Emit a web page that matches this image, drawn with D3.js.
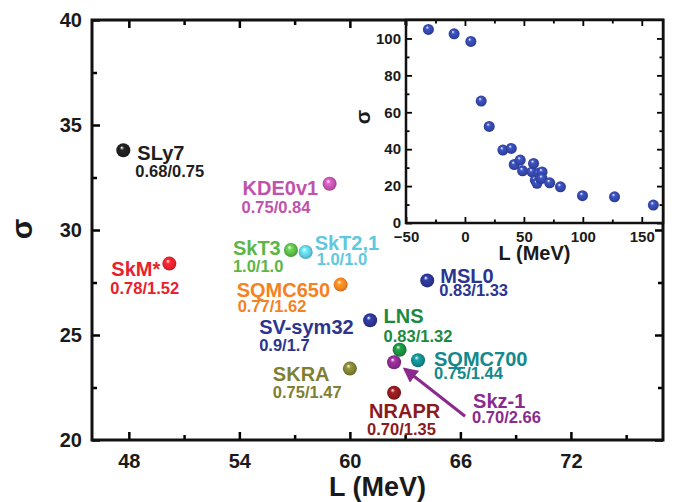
<!DOCTYPE html>
<html>
<head>
<meta charset="utf-8">
<script src="https://cdn.jsdelivr.net/npm/d3@7"></script>
<style>
  body { margin: 0; background: #fff; }
  text { font-family: "Liberation Sans", Arial, sans-serif; font-weight: bold; }
</style>
</head>
<body>
<script>
// main panel data: L (MeV) vs sigma, one point per Skyrme force
var models = ["SLy7", "KDE0v1", "SkT3", "SkT2,1", "SkM*", "SQMC650", "MSL0", "SV-sym32", "LNS", "SQMC700", "Skz-1", "SKRA", "NRAPR"];
var mainL = [47.7, 58.9, 56.8, 57.6, 50.2, 59.5, 64.2, 61.1, 62.7, 63.7, 62.4, 60.0, 62.4];
var mainSigma = [33.8, 32.2, 29.05, 28.95, 28.4, 27.4, 27.6, 25.7, 24.3, 23.8, 23.7, 23.4, 22.25];
var ratios = ["0.68/0.75", "0.75/0.84", "1.0/1.0", "1.0/1.0", "0.78/1.52", "0.77/1.62", "0.83/1.33", "0.9/1.7", "0.83/1.32", "0.75/1.44", "0.70/2.66", "0.75/1.47", "0.70/1.35"];

// inset data
var insetL = [-31, -9.2, 5.0, 13.8, 20.6, 32.2, 39.3, 41.8, 46.9, 48.9, 56.9, 58.2, 59.7, 61.1, 62.5, 63.9, 65.4, 65.4, 71.9, 81, 99.7, 126.9, 159.8];
var insetSigma = [104.9, 102.5, 98.4, 66.1, 52.3, 39.5, 40.4, 31.7, 34.1, 28.3, 27.7, 32.3, 23.2, 21.5, 26.9, 24.2, 27.7, 24.2, 21.8, 19.6, 14.8, 14.2, 9.7];

// tick values
var mainXTicks = [48, 54, 60, 66, 72];
var mainXMinor = [51, 57, 63, 69, 75];
var mainYTicks = [20, 25, 30, 35, 40];
var mainYMinor = [22.5, 27.5, 32.5, 37.5];
var insetXTicks = [-50, 0, 50, 100, 150];
var insetXMinor = [-25, 25, 75, 125];
var insetYTicks = [0, 20, 40, 60, 80, 100];
var insetYMinor = [10, 30, 50, 70, 90];

// styling (colours + label offsets from the point)
var colors = ["#1e1e1e", "#c052ac", "#5cb646", "#5ec8de", "#e8212b", "#f5821f", "#2b3590", "#2b3590", "#1b8a3e", "#12898c", "#8a2a8d", "#7f7f31", "#8c1a1d"];
var offsets = [
  [14, 10, 12, 27], [-87, 11, -88, 29], [-58, 5, -58, 22], [9, -2, 11, 13],
  [-58, 12, -59, 30], [-104, 12, -103, 27], [13, 3, 12, 16], [-111, 14, -111, 31],
  [-16, -27, -16, -8], [16, 6, 16, 19], [79, 46, 78, 61], [-77, 12, -77, 29],
  [-25, 25, -27, 42]
];

var W = 675, H = 502;
var svg = d3.select("body").append("svg").attr("width", W).attr("height", H);
var defs = svg.append("defs");

function sphere(id, c) {
  var g = defs.append("radialGradient").attr("id", id)
    .attr("cx", "0.5").attr("cy", "0.5").attr("r", "0.55")
    .attr("fx", "0.38").attr("fy", "0.3");
  g.append("stop").attr("offset", "0").attr("stop-color", "#ffffff");
  g.append("stop").attr("offset", "0.28").attr("stop-color", d3.color(c).brighter(0.5));
  g.append("stop").attr("offset", "0.7").attr("stop-color", c);
  g.append("stop").attr("offset", "1").attr("stop-color", d3.color(c).darker(0.8));
  return "url(#" + id + ")";
}

// ---------- main panel ----------
var m = {left: 92, top: 20, right: 663, bottom: 440};
var x = d3.scaleLinear().domain([46, 77]).range([m.left, m.right]);
var y = d3.scaleLinear().domain([20, 40]).range([m.bottom, m.top]);

function ticksOn(g) {
  g.select(".domain").remove();
  g.selectAll(".tick line").attr("stroke", "#000").attr("stroke-width", 2.5);
}

var xb = svg.append("g").attr("transform", "translate(0," + m.bottom + ")")
  .call(d3.axisBottom(x).tickValues(mainXTicks).tickSize(-8).tickPadding(14).tickFormat(d3.format("d")));
ticksOn(xb);
xb.selectAll("text").attr("font-size", 20).attr("fill", "#1a1a1a");
ticksOn(svg.append("g").attr("transform", "translate(0," + m.bottom + ")")
  .call(d3.axisBottom(x).tickValues(mainXMinor).tickSize(-5).tickFormat("")));
ticksOn(svg.append("g").attr("transform", "translate(0," + m.top + ")")
  .call(d3.axisTop(x).tickValues(mainXTicks).tickSize(-8).tickFormat("")));
ticksOn(svg.append("g").attr("transform", "translate(0," + m.top + ")")
  .call(d3.axisTop(x).tickValues(mainXMinor).tickSize(-5).tickFormat("")));

var yl = svg.append("g").attr("transform", "translate(" + m.left + ",0)")
  .call(d3.axisLeft(y).tickValues(mainYTicks).tickSize(-8).tickPadding(10).tickFormat(d3.format("d")));
ticksOn(yl);
yl.selectAll("text").attr("font-size", 20).attr("fill", "#1a1a1a");
ticksOn(svg.append("g").attr("transform", "translate(" + m.left + ",0)")
  .call(d3.axisLeft(y).tickValues(mainYMinor).tickSize(-5).tickFormat("")));
ticksOn(svg.append("g").attr("transform", "translate(" + m.right + ",0)")
  .call(d3.axisRight(y).tickValues(mainYTicks).tickSize(-8).tickFormat("")));
ticksOn(svg.append("g").attr("transform", "translate(" + m.right + ",0)")
  .call(d3.axisRight(y).tickValues(mainYMinor).tickSize(-5).tickFormat("")));

svg.append("rect")
  .attr("x", m.left).attr("y", m.top)
  .attr("width", m.right - m.left).attr("height", m.bottom - m.top)
  .attr("fill", "none").attr("stroke", "#111").attr("stroke-width", 3);

svg.append("text")
  .attr("x", (m.left + m.right) / 2).attr("y", 496)
  .attr("text-anchor", "middle").attr("font-size", 27).attr("fill", "#1a1a1a")
  .text("L (MeV)");
svg.append("text")
  .attr("transform", "translate(32,229) rotate(-90)")
  .attr("text-anchor", "middle").attr("font-size", 30).attr("fill", "#1a1a1a")
  .attr("font-family", "DejaVu Sans").attr("font-weight", "normal")
  .text("σ");

// arrow for Skz-1
defs.append("marker").attr("id", "arr")
  .attr("viewBox", "0 0 10 10").attr("refX", 8).attr("refY", 5)
  .attr("markerWidth", 5).attr("markerHeight", 5).attr("orient", "auto")
  .append("path").attr("d", "M0,0L10,5L0,10z").attr("fill", colors[10]);
var iz = models.indexOf("Skz-1");
svg.append("line")
  .attr("x1", x(mainL[iz]) + 71).attr("y1", y(mainSigma[iz]) + 54)
  .attr("x2", x(mainL[iz]) + 11).attr("y2", y(mainSigma[iz]) + 7)
  .attr("stroke", colors[10]).attr("stroke-width", 3)
  .attr("marker-end", "url(#arr)");

var pts = svg.selectAll(".pt").data(models).enter().append("g").attr("class", "pt");
pts.append("circle")
  .attr("cx", function(d, i) { return x(mainL[i]); })
  .attr("cy", function(d, i) { return y(mainSigma[i]); })
  .attr("r", 7)
  .attr("fill", function(d, i) { return sphere("g" + i, colors[i]); });
pts.append("text")
  .attr("x", function(d, i) { return x(mainL[i]) + offsets[i][0]; })
  .attr("y", function(d, i) { return y(mainSigma[i]) + offsets[i][1]; })
  .attr("font-size", 20).attr("fill", function(d, i) { return colors[i]; })
  .text(function(d) { return d; });
pts.append("text")
  .attr("x", function(d, i) { return x(mainL[i]) + offsets[i][2]; })
  .attr("y", function(d, i) { return y(mainSigma[i]) + offsets[i][3]; })
  .attr("font-size", 16.5).attr("fill", function(d, i) { return colors[i]; })
  .text(function(d, i) { return ratios[i]; });

// ---------- inset ----------
var n = {left: 406, top: 20, right: 663, bottom: 223};
var ix = d3.scaleLinear().domain([-50, 168]).range([n.left, n.right]);
var iy = d3.scaleLinear().domain([0, 110]).range([n.bottom, n.top]);

svg.append("rect")
  .attr("x", n.left).attr("y", n.top)
  .attr("width", n.right - n.left).attr("height", n.bottom - n.top)
  .attr("fill", "#fff");

function thin(g) {
  g.select(".domain").remove();
  g.selectAll(".tick line").attr("stroke", "#000").attr("stroke-width", 1.8);
}
var ixb = svg.append("g").attr("transform", "translate(0," + n.bottom + ")")
  .call(d3.axisBottom(ix).tickValues(insetXTicks).tickSize(-6).tickPadding(8).tickFormat(d3.format("d")));
thin(ixb);
ixb.selectAll("text").attr("font-size", 15).attr("fill", "#1a1a1a");
thin(svg.append("g").attr("transform", "translate(0," + n.bottom + ")")
  .call(d3.axisBottom(ix).tickValues(insetXMinor).tickSize(-3.5).tickFormat("")));
thin(svg.append("g").attr("transform", "translate(0," + n.top + ")")
  .call(d3.axisTop(ix).tickValues(insetXTicks).tickSize(-6).tickFormat("")));
thin(svg.append("g").attr("transform", "translate(0," + n.top + ")")
  .call(d3.axisTop(ix).tickValues(insetXMinor).tickSize(-3.5).tickFormat("")));
var iyl = svg.append("g").attr("transform", "translate(" + n.left + ",0)")
  .call(d3.axisLeft(iy).tickValues(insetYTicks).tickSize(-6).tickPadding(5).tickFormat(d3.format("d")));
thin(iyl);
iyl.selectAll("text").attr("font-size", 15).attr("fill", "#1a1a1a");
thin(svg.append("g").attr("transform", "translate(" + n.left + ",0)")
  .call(d3.axisLeft(iy).tickValues(insetYMinor).tickSize(-3.5).tickFormat("")));
thin(svg.append("g").attr("transform", "translate(" + n.right + ",0)")
  .call(d3.axisRight(iy).tickValues(insetYTicks).tickSize(-6).tickFormat("")));
thin(svg.append("g").attr("transform", "translate(" + n.right + ",0)")
  .call(d3.axisRight(iy).tickValues(insetYMinor).tickSize(-3.5).tickFormat("")));

svg.append("rect")
  .attr("x", n.left).attr("y", n.top)
  .attr("width", n.right - n.left).attr("height", n.bottom - n.top)
  .attr("fill", "none").attr("stroke", "#111").attr("stroke-width", 2.5);

var blue = sphere("gi", "#3446a8");
svg.selectAll(".ipt").data(insetL).enter().append("circle").attr("class", "ipt")
  .attr("cx", function(d) { return ix(d); })
  .attr("cy", function(d, i) { return iy(insetSigma[i]); })
  .attr("r", 5.5)
  .attr("fill", blue);

svg.append("text")
  .attr("x", (n.left + n.right) / 2).attr("y", 260)
  .attr("text-anchor", "middle").attr("font-size", 20).attr("fill", "#1a1a1a")
  .text("L (MeV)");
svg.append("text")
  .attr("transform", "translate(370,117) rotate(-90)")
  .attr("text-anchor", "middle").attr("font-size", 21).attr("fill", "#1a1a1a")
  .attr("font-family", "DejaVu Sans").attr("font-weight", "normal")
  .text("σ");
</script>
</body>
</html>
